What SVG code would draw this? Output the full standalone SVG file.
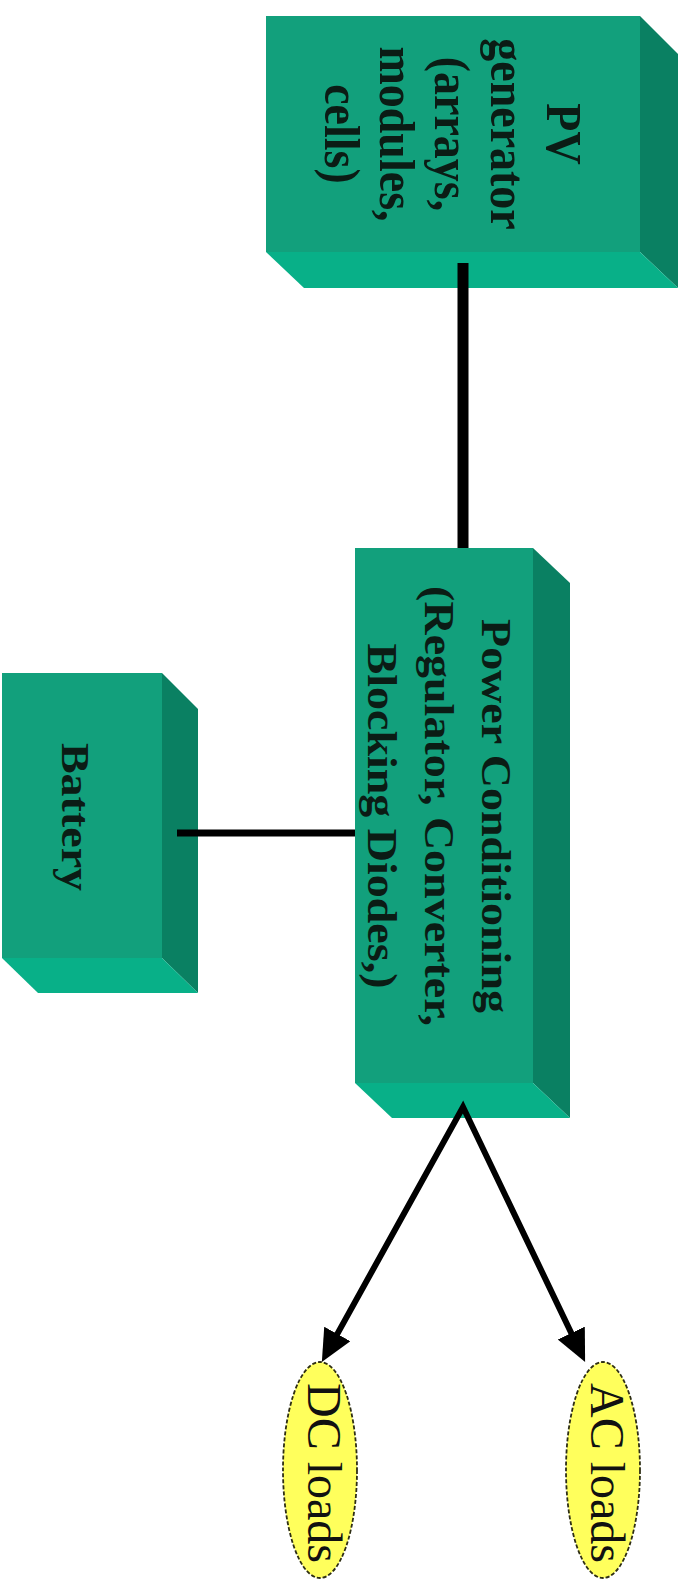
<svg xmlns="http://www.w3.org/2000/svg" width="689" height="1579" viewBox="0 0 689 1579">
<style>
.front{fill:#12a07c}
.side{fill:#0a8062}
.bottom{fill:#08b088}
.lbl{font-family:"Liberation Serif","Times New Roman",serif;font-size:46px;font-weight:bold;fill:#0b1c15;text-anchor:middle}
.ld{font-family:"Liberation Serif","Times New Roman",serif;font-size:48px;fill:#111;text-anchor:middle}
.load{fill:#ffff5c;stroke:#2e2e14;stroke-width:1.8;stroke-dasharray:4 2}
.wire{stroke:#000;fill:none}
</style>
<defs>
<marker id="ah" markerUnits="userSpaceOnUse" markerWidth="34" markerHeight="32" refX="16" refY="15" orient="auto-start-reverse">
<path d="M0,0 L32,15 L0,30 z" fill="#000"/>
</marker>
</defs>
<rect width="689" height="1579" fill="#fff"/>
<g id="pv">
<polygon class="side" points="640,16 678,54 678,288 640,252"/>
<polygon class="bottom" points="266,252 640,252 678,288 304,288"/>
<rect class="front" x="266" y="16" width="374" height="236"/>
<text class="lbl" transform="translate(547,134) rotate(90) scale(1,1.1)">PV</text>
<text class="lbl" transform="translate(491,134) rotate(90) scale(1,1.1)">generator</text>
<text class="lbl" transform="translate(435,134) rotate(90) scale(1,1.1)">(arrays,</text>
<text class="lbl" transform="translate(380,134) rotate(90) scale(1,1.1)">modules,</text>
<text class="lbl" transform="translate(325,134) rotate(90) scale(1,1.1)">cells)</text>
</g>
<g id="power">
<polygon class="side" points="533,548 570,583 570,1118 533,1083"/>
<polygon class="bottom" points="355,1083 533,1083 570,1118 392,1118"/>
<rect class="front" x="355" y="548" width="178" height="535"/>
<text class="lbl" transform="translate(482,816) rotate(90) scale(1,0.9)">Power Conditioning</text>
<text class="lbl" transform="translate(425,806) rotate(90) scale(1,0.9)">(Regulator, Converter,</text>
<text class="lbl" transform="translate(368,816) rotate(90) scale(1,0.9)">Blocking Diodes,)</text>
</g>
<g id="battery">
<polygon class="side" points="162,673 198,709 198,993 162,958"/>
<polygon class="bottom" points="2,958 162,958 198,993 38,993"/>
<rect class="front" x="2" y="673" width="160" height="285"/>
<text class="lbl" transform="translate(62,817) rotate(90) scale(1,0.88)">Battery</text>
</g>
<g id="dc">
<ellipse class="load" cx="320" cy="1470" rx="37" ry="108"/>
<text class="ld" transform="translate(308,1473) rotate(90)">DC loads</text>
</g>
<g id="ac">
<ellipse class="load" cx="603" cy="1470" rx="37" ry="108"/>
<text class="ld" transform="translate(591,1473) rotate(90)">AC loads</text>
</g>
<g id="connectors">
<line class="wire" x1="463" y1="263" x2="463" y2="548" stroke-width="11"/>
<line class="wire" x1="177" y1="833" x2="355" y2="833" stroke-width="7"/>
<polyline class="wire" points="329.6,1347.9 463,1107 578.2,1347.5" stroke-width="6" stroke-linejoin="miter" stroke-miterlimit="3" marker-start="url(#ah)" marker-end="url(#ah)"/>
</g>
</svg>
